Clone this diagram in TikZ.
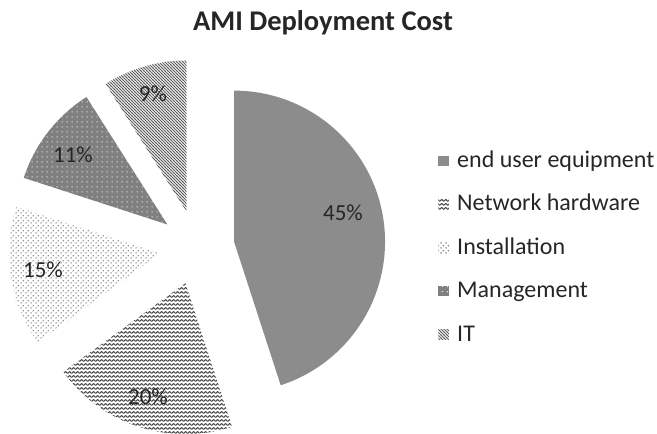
\documentclass[tikz,border=0pt]{standalone}
\usepackage{fontspec}
\setmainfont{Carlito}
\usetikzlibrary{patterns,calc}

% Fill patterns for the slices (form-only, coloured by "pattern color")
\pgfdeclarepatternformonly{zigzagfill}{\pgfqpoint{0pt}{0pt}}{\pgfqpoint{4pt}{4pt}}{\pgfqpoint{4pt}{4pt}}{%
  \pgfsetlinewidth{1.25pt}%
  \pgfsetroundjoin
  \pgfpathmoveto{\pgfqpoint{-0.5pt}{0.7pt}}%
  \pgfpathlineto{\pgfqpoint{2pt}{3pt}}%
  \pgfpathlineto{\pgfqpoint{4.5pt}{0.7pt}}%
  \pgfusepath{stroke}%
}
\pgfdeclarepatternformonly{dotfill}{\pgfqpoint{0pt}{0pt}}{\pgfqpoint{5pt}{5pt}}{\pgfqpoint{5pt}{5pt}}{%
  \pgfpathcircle{\pgfqpoint{1.25pt}{1.25pt}}{0.85pt}%
  \pgfpathcircle{\pgfqpoint{3.75pt}{3.75pt}}{0.85pt}%
  \pgfusepath{fill}%
}
\pgfdeclarepatternformonly{lightdots}{\pgfqpoint{0pt}{0pt}}{\pgfqpoint{5pt}{5pt}}{\pgfqpoint{5pt}{5pt}}{%
  \pgfpathcircle{\pgfqpoint{2.5pt}{2.5pt}}{0.75pt}%
  \pgfusepath{fill}%
}
\pgfdeclarepatternformonly{nwfill}{\pgfqpoint{-1pt}{-1pt}}{\pgfqpoint{4pt}{4pt}}{\pgfqpoint{3pt}{3pt}}{%
  \pgfsetlinewidth{1pt}%
  \pgfpathmoveto{\pgfqpoint{-0.2pt}{3.2pt}}%
  \pgfpathlineto{\pgfqpoint{3.2pt}{-0.2pt}}%
  \pgfusepath{stroke}%
}

\definecolor{txt}{HTML}{262626}

\tikzset{
  sliceA/.style={fill=black!45},
  sliceB/.style={pattern=zigzagfill, pattern color=black!70},
  sliceC/.style={pattern=dotfill, pattern color=black!58},
  sliceD/.style={fill=black!50, postaction={pattern=lightdots, pattern color=white}},
  sliceE/.style={pattern=nwfill, pattern color=black!62},
  pct/.style={font=\fontsize{23}{23}\selectfont, text=txt, anchor=base, inner sep=0pt},
  legtext/.style={font=\fontsize{24}{24}\selectfont, text=txt, anchor=base west, inner sep=0pt},
  legkey/.style={minimum size=10.5pt, inner sep=0pt, draw=none},
}

\begin{document}
\begin{tikzpicture}[x=1pt, y=1pt]
  \useasboundingbox (0,0) rectangle (657,434);

  % pie geometry: centre, radius, explosion offset
  \def\R{151}
  \def\D{37.5}
  \coordinate (ctr) at (197,186.5);

  % slices, clockwise from twelve o'clock
  \fill[sliceA] ($(ctr)+(9:\D)$) -- ++(90:\R) arc[start angle=90, end angle=-72, radius=\R] -- cycle;
  \fill[sliceB] ($(ctr)+(-108:\D)$) -- ++(-72:\R) arc[start angle=-72, end angle=-144, radius=\R] -- cycle;
  \fill[sliceC] ($(ctr)+(-171:\D)$) -- ++(-144:\R) arc[start angle=-144, end angle=-198, radius=\R] -- cycle;
  \fill[sliceD] ($(ctr)+(-217.8:\D)$) -- ++(-198:\R) arc[start angle=-198, end angle=-237.6, radius=\R] -- cycle;
  \fill[sliceE] ($(ctr)+(-253.8:\D)$) -- ++(-237.6:\R) arc[start angle=-237.6, end angle=-270, radius=\R] -- cycle;

  % percentage labels
  \node[pct] (p45) at (343,213) {45\%};
  \node[pct] (p20) at (148,29) {20\%};
  \node[pct] (p15) at (43,156) {15\%};
  \node[pct] (p11) at (73,271) {11\%};
  \node[pct] (p09) at (153,332) {9\%};

  % title
  \node[font=\fontsize{28.5}{28.5}\selectfont\bfseries, text=txt, anchor=base, inner sep=0pt] (title) at (323,403) {AMI Deployment Cost};

  % legend
  \node[legkey, sliceA] (k1) at (443.5,273) {};
  \node[legtext] (l1) at (457,266.5) {end user equipment};
  \node[legkey, sliceB] (k2) at (443.5,229.6) {};
  \node[legtext] (l2) at (457,223.1) {Network hardware};
  \node[legkey, sliceC] (k3) at (443.5,186.2) {};
  \node[legtext] (l3) at (457,179.7) {Installation};
  \node[legkey, sliceD] (k4) at (443.5,142.8) {};
  \node[legtext] (l4) at (457,136.3) {Management};
  \node[legkey, sliceE] (k5) at (443.5,99.4) {};
  \node[legtext] (l5) at (457,92.9) {IT};
\end{tikzpicture}
\end{document}
